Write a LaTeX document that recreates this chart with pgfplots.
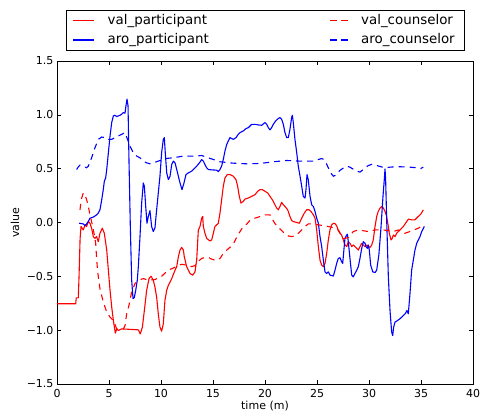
\documentclass[border=0pt]{standalone}
\usepackage{fontspec}
\setmainfont{DejaVu Sans}
\usepackage{pgfplots}
\pgfplotsset{compat=1.18}

\pgfplotstableread{
x y
0 -0.755
1.80 -0.755
1.85 -0.70
2.05 -0.70
2.12 -0.50
2.22 -0.15
2.31 -0.037
2.53 -0.069
2.69 -0.022
2.85 -0.037
3.01 0.009
3.17 -0.007
3.33 -0.053
3.49 -0.131
3.65 -0.147
3.81 -0.131
3.97 -0.178
4.13 -0.100
4.36 -0.053
4.55 -0.100
4.78 -0.256
4.94 -0.443
5.10 -0.630
5.26 -0.785
5.42 -0.910
5.61 -1.028
5.74 -0.988
5.90 -1.003
6.22 -0.988
7.82 -0.997
8.01 -1.035
8.21 -0.972
8.40 -0.817
8.62 -0.630
8.85 -0.521
9.04 -0.499
9.26 -0.536
9.42 -0.600
9.58 -0.692
9.74 -0.848
9.90 -0.972
10.06 -1.01
10.22 -0.941
10.38 -0.723
10.55 -0.630
10.71 -0.583
11.03 -0.521
11.35 -0.443
11.51 -0.411
11.67 -0.318
11.83 -0.256
11.99 -0.231
12.15 -0.256
12.24 -0.318
12.47 -0.411
12.79 -0.474
13.05 -0.489
13.27 -0.458
13.43 -0.349
13.59 -0.069
13.75 -0.037
13.91 0.040
14.01 0.056
14.07 -0.037
14.23 -0.100
14.39 -0.147
14.71 -0.172
14.87 -0.162
15.03 -0.100
15.19 -0.037
15.35 -0.022
15.51 -0.007
15.67 0.087
15.83 0.211
15.99 0.336
16.15 0.414
16.38 0.445
16.63 0.445
16.95 0.430
17.21 0.398
17.37 0.336
17.53 0.243
17.69 0.180
17.91 0.196
18.08 0.218
18.40 0.227
18.72 0.243
19.04 0.258
19.30 0.290
19.52 0.305
19.74 0.305
20.00 0.290
20.26 0.274
20.48 0.243
20.71 0.211
20.96 0.165
21.12 0.134
21.28 0.118
21.44 0.149
21.60 0.187
21.76 0.165
21.92 0.149
22.18 0.118
22.40 0.056
22.56 0.019
22.72 0.009
23.05 0.0
23.30 -0.007
23.53 0.040
23.78 0.087
24.01 0.118
24.23 0.118
24.42 0.103
24.65 0.071
24.81 0.040
24.97 -0.069
25.13 -0.224
25.29 -0.349
25.45 -0.396
25.61 -0.411
25.77 -0.380
25.93 -0.287
26.09 -0.162
26.25 -0.069
26.41 -0.022
26.57 -0.007
26.73 -0.010
26.89 -0.030
27.05 -0.075
27.21 -0.100
27.37 -0.116
27.53 -0.162
27.69 -0.209
27.86 -0.224
28.01 -0.178
28.17 -0.193
28.34 -0.224
28.49 -0.209
28.82 -0.240
28.97 -0.256
29.13 -0.224
29.30 -0.193
29.45 -0.209
29.62 -0.224
29.78 -0.209
30.10 -0.231
30.26 -0.209
30.41 -0.162
30.58 -0.037
30.74 0.056
30.89 0.103
31.06 0.134
31.22 0.149
31.38 0.134
31.54 0.103
31.70 0.056
31.86 -0.037
31.95 -0.100
32.12 -0.162
32.24 -0.147
32.34 -0.116
32.50 -0.131
32.66 -0.100
32.98 -0.069
33.30 -0.037
33.63 0.009
33.78 0.031
34.10 0.025
34.42 0.025
34.74 0.056
35.00 0.080
35.22 0.118
}\valpart

\pgfplotstableread{
x y
2.12 -0.007
2.53 -0.013
2.69 -0.028
2.85 -0.013
3.01 0.009
3.17 0.040
3.49 0.050
3.81 0.071
3.97 0.087
4.13 0.118
4.30 0.211
4.45 0.305
4.55 0.383
4.68 0.414
4.78 0.492
4.94 0.648
5.10 0.804
5.26 0.928
5.42 0.991
5.58 0.996
5.74 0.984
6.06 0.996
6.22 1.006
6.38 1.021
6.54 1.015
6.63 1.084
6.73 1.146
6.83 1.084
6.92 0.585
7.05 -0.037
7.18 -0.536
7.31 -0.707
7.43 -0.698
7.57 -0.630
7.72 -0.536
7.82 -0.411
7.98 -0.131
8.14 0.180
8.30 0.367
8.40 0.336
8.53 0.149
8.65 -0.007
8.78 0.056
8.94 0.110
9.10 -0.037
9.26 -0.084
9.42 -0.050
9.58 0.118
9.74 0.274
9.90 0.430
10.06 0.648
10.22 0.772
10.32 0.788
10.41 0.648
10.55 0.461
10.71 0.398
10.87 0.430
11.03 0.538
11.19 0.570
11.35 0.554
11.51 0.492
11.67 0.430
11.83 0.367
12.02 0.305
12.21 0.367
12.40 0.445
12.63 0.461
12.95 0.477
13.11 0.492
13.43 0.523
13.75 0.561
13.91 0.585
14.07 0.570
14.23 0.538
14.39 0.508
14.55 0.492
14.87 0.489
15.35 0.486
15.51 0.473
15.67 0.492
15.83 0.523
15.99 0.585
16.15 0.664
16.32 0.725
16.47 0.757
16.63 0.788
16.95 0.772
17.21 0.788
17.43 0.819
17.60 0.835
17.91 0.850
18.17 0.872
18.40 0.881
18.72 0.912
19.04 0.912
19.36 0.906
19.68 0.903
20.00 0.928
20.16 0.912
20.32 0.881
20.48 0.860
20.64 0.881
20.80 0.912
20.96 0.935
21.12 0.953
21.28 0.965
21.44 0.975
21.60 0.959
21.76 0.912
21.92 0.835
22.09 0.788
22.24 0.788
22.40 0.866
22.56 0.975
22.63 0.996
22.72 0.928
22.88 0.772
23.05 0.648
23.20 0.523
23.37 0.430
23.53 0.336
23.68 0.243
23.85 0.227
23.94 0.305
24.04 0.445
24.16 0.398
24.33 0.243
24.49 0.165
24.65 0.149
24.81 0.103
24.97 0.040
25.13 -0.007
25.29 -0.131
25.45 -0.224
25.61 -0.349
25.77 -0.458
25.93 -0.474
26.09 -0.458
26.25 -0.489
26.57 -0.497
26.73 -0.443
26.89 -0.380
27.05 -0.334
27.21 -0.327
27.37 -0.365
27.47 -0.380
27.60 -0.240
27.69 -0.147
27.86 -0.116
27.92 -0.109
28.01 -0.178
28.17 -0.334
28.34 -0.489
28.49 -0.505
28.65 -0.474
28.82 -0.443
28.97 -0.411
29.13 -0.334
29.30 -0.240
29.45 -0.178
29.62 -0.193
29.71 -0.224
29.84 -0.240
29.93 -0.209
30.03 -0.256
30.16 -0.396
30.36 -0.458
30.58 -0.465
30.74 -0.443
30.95 -0.300
31.15 -0.050
31.35 0.250
31.47 0.398
31.54 0.498
31.60 0.398
31.70 0.025
31.86 -0.505
32.02 -0.817
32.18 -1.019
32.28 -1.050
32.37 -0.972
32.50 -0.925
32.66 -0.916
32.98 -0.894
33.30 -0.864
33.53 -0.841
33.65 -0.817
33.78 -0.848
33.94 -0.661
34.10 -0.443
34.26 -0.349
34.42 -0.256
34.59 -0.193
34.74 -0.162
34.90 -0.131
35.07 -0.084
35.32 -0.037
}\aropart

\pgfplotstableread{
x y
2.21 0.118
2.35 0.22
2.53 0.274
2.69 0.258
2.85 0.211
3.01 0.150
3.17 0.071
3.40 -0.022
3.59 -0.116
3.72 -0.193
3.81 -0.334
3.91 -0.458
4.13 -0.614
4.45 -0.738
4.78 -0.832
5.10 -0.879
5.42 -0.910
5.74 -0.988
6.06 -0.988
6.38 -0.988
6.54 -0.957
6.70 -0.848
6.92 -0.770
7.18 -0.645
7.50 -0.567
7.82 -0.536
8.30 -0.521
8.78 -0.536
9.42 -0.530
10.06 -0.500
10.38 -0.470
10.71 -0.440
11.03 -0.430
11.35 -0.415
11.67 -0.400
11.99 -0.388
12.63 -0.400
12.95 -0.410
13.27 -0.400
13.59 -0.360
13.91 -0.334
14.23 -0.325
14.55 -0.324
14.87 -0.340
15.19 -0.350
15.50 -0.345
15.67 -0.334
15.99 -0.287
16.32 -0.256
16.63 -0.231
16.95 -0.200
17.28 -0.137
17.60 -0.084
17.91 -0.037
18.24 -0.015
18.56 0.020
18.72 0.031
19.36 0.050
20.00 0.071
20.48 0.071
20.64 0.040
20.96 -0.010
21.28 -0.045
21.60 -0.075
21.92 -0.106
22.24 -0.125
22.56 -0.131
22.88 -0.125
23.20 -0.100
23.53 -0.069
23.85 -0.037
24.16 -0.013
24.49 -0.013
25.13 -0.022
25.77 -0.031
26.41 -0.044
27.05 -0.069
27.53 -0.150
28.01 -0.140
28.49 -0.084
28.97 -0.069
29.93 -0.084
30.58 -0.069
31.38 -0.069
32.34 -0.084
32.82 -0.069
33.46 -0.100
34.10 -0.078
34.74 -0.053
35.16 -0.028
}\valcoun

\pgfplotstableread{
x y
1.89 0.492
2.05 0.517
2.21 0.533
2.53 0.523
2.85 0.508
3.01 0.523
3.33 0.601
3.65 0.694
3.97 0.772
4.30 0.794
4.62 0.788
4.94 0.772
5.26 0.772
5.58 0.788
5.90 0.804
6.22 0.819
6.54 0.835
6.70 0.794
7.02 0.710
7.34 0.648
7.66 0.617
7.98 0.601
8.30 0.570
8.62 0.554
8.94 0.545
9.26 0.554
9.74 0.570
10.38 0.594
11.19 0.601
12.15 0.617
13.27 0.617
13.91 0.622
14.55 0.601
15.19 0.580
15.67 0.564
16.95 0.551
18.24 0.545
19.52 0.548
20.80 0.564
22.09 0.576
23.37 0.570
24.65 0.570
25.13 0.585
25.45 0.594
25.67 0.585
25.87 0.554
26.09 0.508
26.31 0.461
26.57 0.430
26.83 0.440
27.21 0.485
27.53 0.505
27.86 0.523
28.17 0.514
28.65 0.485
29.13 0.468
29.45 0.492
29.93 0.529
30.26 0.540
30.74 0.530
31.06 0.520
31.54 0.508
32.02 0.514
32.66 0.518
33.30 0.517
33.94 0.514
34.59 0.508
34.97 0.501
35.22 0.514
}\arocoun

\begin{document}
\begin{tikzpicture}
\begin{axis}[
  at={(0,0)}, anchor=south west,
  scale only axis, width=416pt, height=323pt,
  xmin=0, xmax=40, ymin=-1.5, ymax=1.5,
  xtick={0,5,...,40},
  xticklabels={0,5,10,15,20,25,30,35,40},
  ytick={-1.5,-1,-0.5,0,0.5,1,1.5},
  yticklabels={−1.5,−1.0,−0.5,0.0,0.5,1.0,1.5},
  tick align=inside, major tick length=3.7pt,
  tick style={black, line width=0.6pt},
  axis line style={black, line width=0.8pt},
  ticklabel style={font=\fontsize{11}{13}\selectfont},
  xticklabel style={yshift=-2pt},
  label style={font=\fontsize{11}{13}\selectfont},
  xlabel={time (m)}, ylabel={value},
  xlabel style={at={(axis description cs:0.5,-0.068)}, anchor=center},
  ylabel style={at={(axis description cs:-0.101,0.5)}, anchor=center},
  legend columns=2,
  legend style={at={(0.5,1)}, anchor=south, yshift=11pt,
    font=\fontsize{13.4}{16}\selectfont,
    inner xsep=7pt, inner ysep=2.5pt, row sep=3.5pt,
    cells={anchor=west},
    /tikz/every odd column/.append style={column sep=12pt},
    /tikz/every even column/.append style={column sep=119pt}},
]
\addlegendimage{legend image code/.code={\fill[red] (0pt,-0.42pt) rectangle (20pt,0.42pt);}}
\addlegendentry{val\_participant}
\addlegendimage{legend image code/.code={\fill[red] (0pt,-0.42pt) rectangle (6pt,0.42pt); \fill[red] (11pt,-0.42pt) rectangle (17pt,0.42pt);}}
\addlegendentry{val\_counselor}
\addlegendimage{legend image code/.code={\fill[blue] (0pt,-0.42pt) rectangle (20pt,0.42pt);}}
\addlegendentry{aro\_participant}
\addlegendimage{legend image code/.code={\fill[blue] (0pt,-0.42pt) rectangle (6pt,0.42pt); \fill[blue] (11pt,-0.42pt) rectangle (17pt,0.42pt);}}
\addlegendentry{aro\_counselor}
\addplot[color=red, line width=1.1pt, line join=round, forget plot] table {\valpart};
\addplot[color=blue, line width=1.1pt, line join=round, forget plot] table {\aropart};
\addplot[color=red, line width=1.1pt, dash pattern=on 6pt off 5pt, forget plot] table {\valcoun};
\addplot[color=blue, line width=1.1pt, dash pattern=on 6pt off 5pt, forget plot] table {\arocoun};
\end{axis}
\pgfresetboundingbox
\path[use as bounding box] (-57pt,-30pt) rectangle (424pt,384pt);
\end{tikzpicture}
\end{document}
